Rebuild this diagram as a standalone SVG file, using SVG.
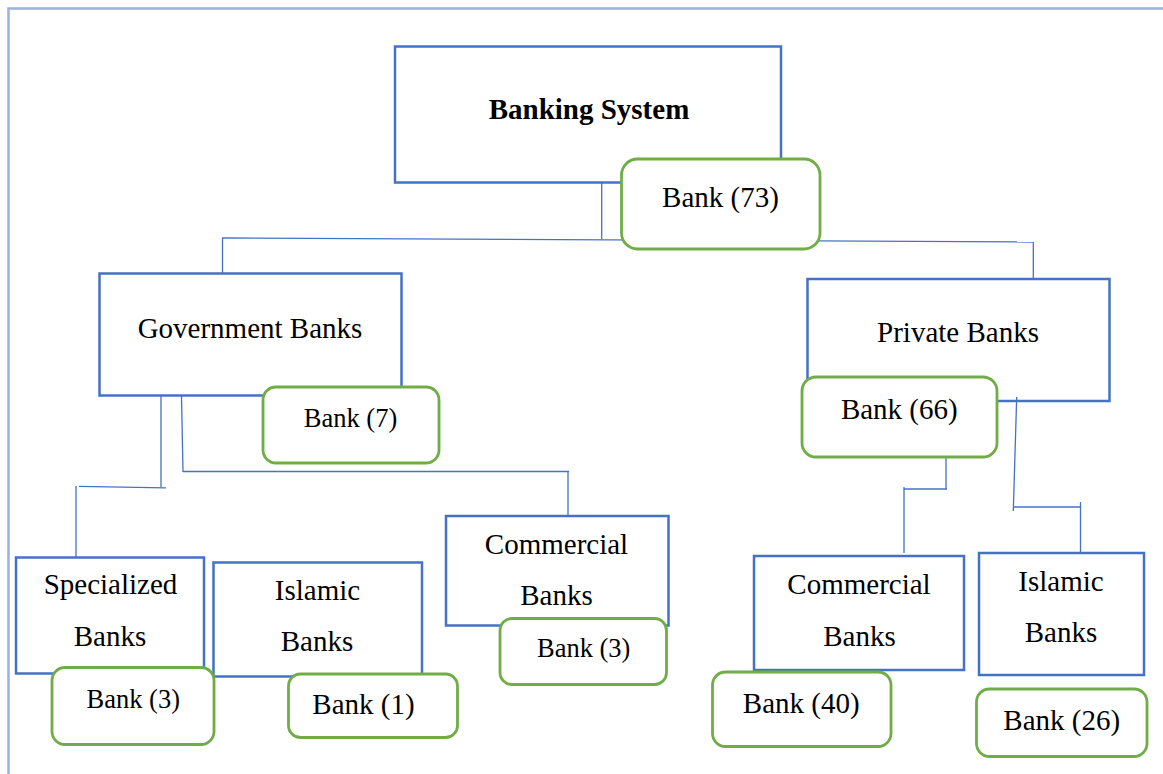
<svg xmlns="http://www.w3.org/2000/svg" width="1163" height="774" viewBox="0 0 1163 774">
<style>
.box{fill:#fff;stroke:#4472c4;stroke-width:2.5}
.cnt{fill:#fff;stroke:#70ad47;stroke-width:2.8}
.ln{fill:none;stroke:#4472c4;stroke-width:1.3}
text{font-family:'Liberation Serif','Times New Roman','DejaVu Serif',serif;font-size:29px;fill:#000;text-anchor:middle}
.s{font-size:26.5px}
.b{font-weight:bold}
</style>
<rect width="1163" height="774" fill="#fff"/>
<path d="M8.5,774 V8.5 H1163" fill="none" stroke="#9ab3e0" stroke-width="2.5"/>

<g id="banking-system"><rect class="box" x="395" y="46.5" width="386" height="136"/><text class="b" x="589" y="119">Banking System</text></g>
<g id="government-banks"><rect class="box" x="99.5" y="273.5" width="302" height="122"/><text x="250" y="338">Government Banks</text></g>
<g id="private-banks"><rect class="box" x="807.5" y="279" width="302" height="122"/><text x="958" y="342">Private Banks</text></g>
<g id="specialized-banks"><rect class="box" x="16" y="557.5" width="188" height="116"/><text x="110.5" y="594">Specialized</text><text x="110" y="645.5">Banks</text></g>
<g id="islamic-banks-gov"><rect class="box" x="213.5" y="562.5" width="208.5" height="114"/><text x="317.5" y="600">Islamic</text><text x="317" y="650.5">Banks</text></g>
<g id="commercial-banks-gov"><rect class="box" x="446" y="516" width="222.5" height="109.5"/><text x="556.5" y="554">Commercial</text><text x="556.5" y="604.5">Banks</text></g>
<g id="commercial-banks-pvt"><rect class="box" x="754" y="556" width="210" height="114"/><text x="859" y="594">Commercial</text><text x="859.5" y="646">Banks</text></g>
<g id="islamic-banks-pvt"><rect class="box" x="979" y="553" width="165" height="122"/><text x="1061" y="591">Islamic</text><text x="1061" y="641.5">Banks</text></g>

<g id="connectors">
<path class="ln" d="M601.7,183 V239"/>
<path class="ln" d="M222,238 L1033,242"/>
<path class="ln" d="M222.5,238 V273.5"/>
<path class="ln" d="M1033.3,242 V279"/>
<path class="ln" d="M161,396 V487"/>
<path class="ln" d="M79,486.4 L166,487.8"/>
<path class="ln" d="M76,486 V557"/>
<path class="ln" d="M181.5,396 L183,472"/>
<path class="ln" d="M183,471.5 H569"/>
<path class="ln" d="M568,471 V516"/>
<path class="ln" d="M946,457 V489"/>
<path class="ln" d="M903.7,489 H947"/>
<path class="ln" d="M904,487 V553"/>
<path class="ln" d="M1016.7,397 L1013.3,511"/>
<path class="ln" d="M1013,507 H1081"/>
<path class="ln" d="M1080.5,502 V553"/>
</g>

<g id="bank-73"><rect class="cnt" x="621.5" y="159" width="198.5" height="90" rx="16"/><text x="720.5" y="207">Bank (73)</text></g>
<g id="bank-7"><rect class="cnt" x="263" y="387" width="176" height="76" rx="13"/><text class="s" x="350.5" y="427">Bank (7)</text></g>
<g id="bank-66"><rect class="cnt" x="802" y="377" width="195" height="80" rx="14"/><text x="899.3" y="419.3">Bank (66)</text></g>
<g id="bank-3-specialized"><rect class="cnt" x="52" y="667.5" width="162" height="77" rx="13"/><text class="s" x="133.3" y="708.3">Bank (3)</text></g>
<g id="bank-1"><rect class="cnt" x="288.5" y="674" width="169" height="63.5" rx="12"/><text x="363.5" y="714.3">Bank (1)</text></g>
<g id="bank-3-commercial"><rect class="cnt" x="500" y="618.5" width="166.5" height="66" rx="12"/><text class="s" x="583.7" y="657.3">Bank (3)</text></g>
<g id="bank-40"><rect class="cnt" x="712.5" y="672" width="178.5" height="74.5" rx="13"/><text x="801.2" y="713.3">Bank (40)</text></g>
<g id="bank-26"><rect class="cnt" x="976.5" y="689" width="170.5" height="67.5" rx="13"/><text x="1061.7" y="730">Bank (26)</text></g>
</svg>
